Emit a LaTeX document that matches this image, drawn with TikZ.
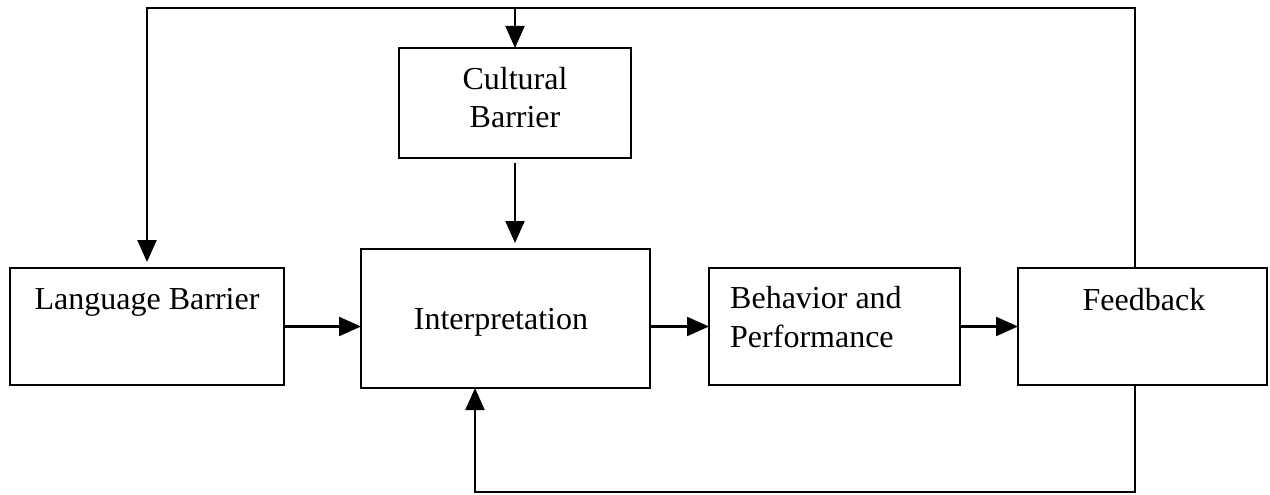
\documentclass[tikz,border=0pt]{standalone}
\usepackage{fontspec}
\setmainfont{Liberation Serif}
\usetikzlibrary{arrows.meta}
\begin{document}
\begin{tikzpicture}[x=1pt,y=-1pt,
  box/.style={draw,line width=2.2pt,minimum width=#1,inner sep=0pt,outer sep=0pt},
  txt/.style={inner sep=0pt,font=\fontsize{32}{38}\selectfont,anchor=base},
  conn/.style={line width=2.2pt},
  arr/.style={line width=2.2pt,-{Triangle[length=22pt,width=19pt]}}]
\useasboundingbox (0,0) rectangle (1270,495);
% boxes
\node[box=274pt,minimum height=117pt] (lang) at (147,326.5) {};
\node[box=289pt,minimum height=139pt] (intp) at (505.5,318.5) {};
\node[box=232pt,minimum height=110pt] (cult) at (515,103) {};
\node[box=251pt,minimum height=117pt] (beh) at (834.5,326.5) {};
\node[box=249pt,minimum height=117pt] (fb) at (1142.5,326.5) {};
% texts
\node[txt] (langt) at (147,309) {Language Barrier};
\node[txt] (intpt) at (501,329) {Interpretation};
\node[txt] (cult1) at (515,89) {Cultural};
\node[txt] (cult2) at (515,127) {Barrier};
\node[txt,anchor=base west] (beh1) at (730,308) {Behavior and};
\node[txt,anchor=base west] (beh2) at (730,347) {Performance};
\node[txt] (fbt) at (1144,310) {Feedback};
% coordinates of the loops
\coordinate (tr) at (1135,8);
\coordinate (tl) at (147,8);
\coordinate (tc) at (515,8);
\coordinate (br) at (1135,492);
\coordinate (bl) at (475,492);
% connectors
\draw[arr,shorten >=6pt] (fb.north -| tr) -- (tr) -- (tl) -- (lang.north);
\draw[arr] (tc) -- (cult.north);
\draw[arr,shorten <=5pt,shorten >=6pt] (cult.south) -- (cult.south |- intp.north);
\draw[arr] (lang.east) -- (lang.east -| intp.west);
\draw[arr] (intp.east |- beh.west) -- (beh.west);
\draw[arr] (beh.east) -- (fb.west);
\draw[arr] (fb.south -| br) -- (br) -- (bl) -- (bl |- intp.south);
\end{tikzpicture}
\end{document}
